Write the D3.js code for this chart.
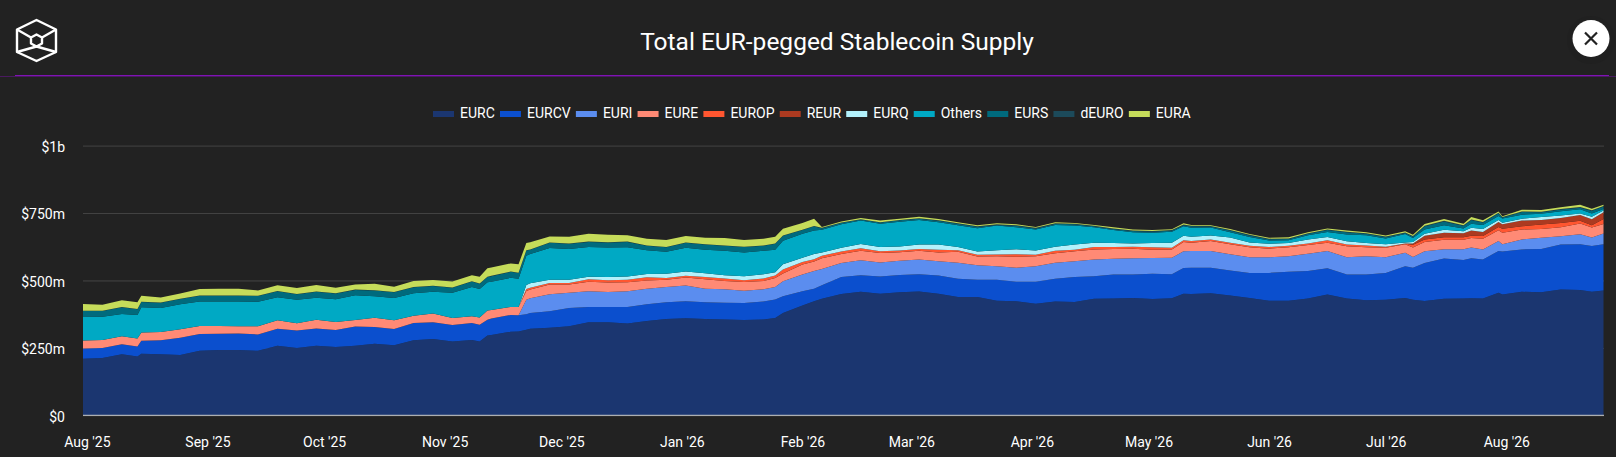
<!DOCTYPE html>
<html>

<head>
  <meta charset="utf-8">
  <title>Total EUR-pegged Stablecoin Supply</title>
  <style>
    html, body { margin: 0; padding: 0; background: #222222; overflow: hidden; }
    svg { display: block; font-family: Roboto, sans-serif; }
    .tick text { fill: #fff; font-size: 14px; font-family: Roboto, sans-serif; }
  </style>
</head>

<body>
  <svg></svg>
  <script src="https://d3js.org/d3.v7.min.js"></script>
  <script>
    const width = 1616;
    const height = 457;

    const dates = [
      "2025-07-31","2025-08-05","2025-08-10","2025-08-14","2025-08-15","2025-08-20","2025-08-25","2025-08-30","2025-09-04","2025-09-09",
      "2025-09-14","2025-09-19","2025-09-24","2025-09-29","2025-10-04","2025-10-09","2025-10-14","2025-10-19","2025-10-24","2025-10-29",
      "2025-11-03","2025-11-08","2025-11-10","2025-11-12","2025-11-13","2025-11-18","2025-11-20","2025-11-22","2025-11-23","2025-11-28",
      "2025-12-03","2025-12-08","2025-12-13","2025-12-18","2025-12-23","2025-12-28","2026-01-02","2026-01-07","2026-01-12","2026-01-17",
      "2026-01-22","2026-01-25","2026-01-27","2026-02-01","2026-02-04","2026-02-06","2026-02-11","2026-02-16","2026-02-21","2026-02-26",
      "2026-03-03","2026-03-08","2026-03-13","2026-03-18","2026-03-23","2026-03-28","2026-04-02","2026-04-07","2026-04-12","2026-04-17",
      "2026-04-22","2026-04-27","2026-05-02","2026-05-07","2026-05-10","2026-05-12","2026-05-17","2026-05-22","2026-05-27","2026-06-01",
      "2026-06-06","2026-06-11","2026-06-16","2026-06-21","2026-06-26","2026-07-01","2026-07-06","2026-07-08","2026-07-11","2026-07-16",
      "2026-07-21","2026-07-23","2026-07-26","2026-07-30","2026-07-31","2026-08-05","2026-08-10","2026-08-15","2026-08-20","2026-08-23","2026-08-26"
    ];

    // values in $m
    const EURC = [
      210,212,226,218,228,226,224,239,242,242,
      239,258,250,258,253,258,265,260,278,283,
      274,279,274,296,298,310,311,317,321,325,
      330,345,345,340,350,357,360,357,355,353,
      355,361,379,407,423,432,450,458,451,456,
      459,451,439,439,425,423,414,422,420,432,
      433,435,431,434,451,450,453,444,435,425,
      425,433,448,433,427,428,435,428,424,432,
      433,434,433,454,448,458,456,466,465,458,463
    ];
    const EURCV = [
      38,38,37,37,48,52,64,62,60,61,
      61,63,64,64,63,71,62,60,64,62,
      61,63,62,58,61,62,60,58,58,61,
      68,57,57,62,62,62,63,62,62,63,
      67,68,62,53,46,50,63,61,64,64,
      64,67,67,64,78,72,81,84,93,84,
      89,87,94,89,95,97,94,93,93,103,
      107,102,97,89,95,100,118,119,141,149,
      143,148,145,155,159,157,161,167,169,170,171
    ];
    const EURI = [
      0,0,0,0,0,0,0,0,0,0,
      0,0,0,0,0,0,0,0,0,0,
      0,0,0,0,0,0,0,53,55,63,
      56,58,55,58,57,57,58,50,50,46,
      45,47,56,62,66,60,52,56,52,53,
      55,53,60,53,50,52,58,60,58,62,
      58,60,58,61,62,62,62,60,58,58,
      58,64,64,64,68,58,50,40,43,35,
      40,40,37,37,27,37,41,31,37,31,40
    ];
    const EURE = [
      29,29,30,30,31,31,31,30,29,27,
      30,31,27,32,30,24,35,32,27,32,
      26,25,27,35,31,30,31,33,32,36,
      31,35,35,33,31,27,30,35,31,32,
      31,33,29,37,35,40,33,35,35,32,
      32,33,40,33,37,41,37,35,37,37,
      37,36,31,31,35,31,37,37,37,32,
      33,32,31,41,33,35,31,35,35,35,
      35,35,40,40,43,37,33,33,40,37,35
    ];
    const EUROP = [
      0,0,0,0,0,0,0,0,0,0,
      0,0,0,0,0,0,0,0,0,0,
      0,0,0,0,0,0,0,7,7,6,
      6,9,9,10,12,6,6,9,9,7,
      9,9,15,9,9,10,9,9,6,6,
      7,10,6,6,6,9,5,9,6,9,
      7,7,9,6,6,6,6,6,6,6,
      6,6,9,6,7,4,2,10,9,9,
      9,9,10,12,15,12,16,16,10,9,19
    ];
    const REUR = [
      0,0,0,0,0,0,0,0,0,0,
      0,0,0,0,0,0,0,0,0,0,
      0,0,0,0,0,0,0,0,0,0,
      0,0,0,0,0,0,0,0,0,0,
      0,0,0,0,0,0,0,0,0,0,
      0,0,0,0,0,0,0,0,0,0,
      0,0,0,0,0,0,0,0,0,0,
      0,0,0,0,0,0,1,5,14,17,
      15,19,15,19,16,21,17,19,22,22,25
    ];
    const EURQ = [
      0,0,0,0,0,0,0,0,0,0,
      0,0,0,0,0,0,0,0,0,0,
      0,0,0,0,0,0,0,15,17,12,
      12,10,12,12,12,16,16,14,12,15,
      16,12,19,16,19,12,14,16,16,15,
      16,19,12,12,16,19,16,15,19,16,
      15,12,16,19,17,16,15,19,12,12,
      10,15,12,12,9,9,4,6,7,11,
      7,10,11,7,6,7,11,9,5,9,6
    ];
    const Others = [
      89,86,83,87,94,89,93,91,91,92,
      91,86,87,82,84,92,79,83,84,81,
      93,109,105,104,105,108,104,109,108,117,
      114,110,109,108,88,81,88,87,91,88,
      87,84,87,89,87,84,87,87,86,92,
      91,83,81,87,92,81,78,81,71,57,
      48,42,38,41,35,33,29,20,20,12,
      10,16,19,25,29,22,31,14,16,17,
      11,15,15,15,16,15,12,16,16,12,6
    ];
    const EURS = [
      21,22,25,21,19,19,19,21,21,21,
      21,22,21,22,22,20,22,21,22,21,
      19,20,20,20,21,22,22,19,16,20,
      19,19,19,20,17,17,19,19,19,20,
      19,22,19,14,16,6,6,4,5,5,
      5,5,5,5,2,6,4,4,4,4,
      4,4,4,4,4,6,4,6,6,5,
      5,5,7,9,5,5,4,6,12,14,
      10,14,9,10,3,10,6,6,6,10,9
    ];
    const dEURO = [
      1,1,1,1,1,1,1,1,1,1,
      1,1,1,1,1,1,1,1,1,1,
      1,1,1,1,1,1,1,1,1,1,
      1,1,1,1,1,1,1,1,1,1,
      1,1,1,1,1,1,1,1,1,1,
      2,2,2,2,2,2,2,2,2,2,
      2,2,2,2,2,2,2,2,2,2,
      2,2,2,2,2,2,2,2,2,2,
      2,2,2,2,2,2,2,2,2,2,2
    ];
    const EURA = [
      25,22,25,25,22,19,20,24,25,25,
      20,21,22,24,20,19,24,20,22,22,
      22,22,25,31,31,30,31,27,27,22,
      25,29,27,24,25,26,24,24,27,25,
      25,25,25,25,27,3,4,5,6,5,
      5,5,4,4,4,3,3,4,3,3,
      4,4,4,3,5,3,3,4,3,3,
      4,4,4,4,4,4,4,4,6,7,
      5,9,6,5,3,6,6,6,9,6,5
    ];

    const names = ["EURC", "EURCV", "EURI", "EURE", "EUROP", "REUR", "EURQ", "Others", "EURS", "dEURO", "EURA"];
    const colors = ["#1b3670", "#0b4fce", "#5b8def", "#ff8a75", "#ff5630", "#ac3a20", "#b3f1fb", "#00a9c4", "#006a7d", "#1c4a5a", "#c6dc5a"];
    const seriesValues = [EURC, EURCV, EURI, EURE, EUROP, REUR, EURQ, Others, EURS, dEURO, EURA];
    const yTicks = [0, 250, 500, 750, 1000];
    const yLabels = ["$0", "$250m", "$500m", "$750m", "$1b"];

    const parseDate = d3.utcParse("%Y-%m-%d");
    const rows = dates.map((d, i) => {
      const row = { date: parseDate(d) };
      names.forEach((n, j) => { row[n] = seriesValues[j][i]; });
      return row;
    });

    const x = d3.scaleUtc(d3.extent(rows, d => d.date), [83, 1603.5]);
    const y = d3.scaleLinear([0, 1000], [415.3, 145.6]);

    const layers = d3.stack().keys(names)(rows);
    const area = d3.area()
      .x(d => x(d.data.date))
      .y0(d => y(d[0]))
      .y1(d => y(d[1]));

    const svg = d3.select("svg")
      .attr("width", width)
      .attr("height", height)
      .attr("viewBox", [0, 0, width, height]);

    // header
    svg.append("text")
      .attr("x", 837)
      .attr("y", 50)
      .attr("text-anchor", "middle")
      .attr("fill", "#fff")
      .attr("font-size", 24.5)
      .text("Total EUR-pegged Stablecoin Supply");

    svg.append("line").attr("x1", 0).attr("x2", width).attr("y1", 76.5).attr("y2", 76.5)
      .attr("stroke", "#4a1a60");
    svg.append("line").attr("x1", 15).attr("x2", 1609).attr("y1", 75.5).attr("y2", 75.5)
      .attr("stroke", "#8013b5").attr("stroke-width", 1.2);

    const logo = svg.append("g")
      .attr("fill", "none")
      .attr("stroke", "#fff")
      .attr("stroke-width", 2.4)
      .attr("stroke-linejoin", "round");
    logo.append("path").attr("d", "M36.5 20 L56 29.5 L56 52 L36.5 61 L17 52 L17 29.5 Z");
    logo.append("path").attr("d", "M36.5 34.5 L42 37.5 L42 43.5 L36.5 46.5 L31 43.5 L31 37.5 Z");
    logo.append("path").attr("d", "M17 29.5 L31 37.5 M56 29.5 L42 37.5 M17 52 L36.5 46.5 L56 52");

    const close = svg.append("g");
    close.append("circle").attr("cx", 1591).attr("cy", 40).attr("r", 24).attr("fill", "#202020");
    close.append("circle").attr("cx", 1591).attr("cy", 38.5).attr("r", 18.5).attr("fill", "#fff");
    close.append("path").attr("d", "M1585 32.5 L1597 44.5 M1597 32.5 L1585 44.5")
      .attr("stroke", "#222").attr("stroke-width", 2.2).attr("fill", "none");

    // legend, laid out from the measured text widths
    const legend = svg.append("g");
    let lx = 433;
    names.forEach((n, i) => {
      legend.append("rect")
        .attr("x", lx).attr("y", 111).attr("width", 21).attr("height", 6)
        .attr("fill", colors[i]);
      const t = legend.append("text")
        .attr("x", lx + 27).attr("y", 118)
        .attr("fill", "#fff")
        .attr("font-size", 14)
        .text(n);
      lx += 27 + t.node().getComputedTextLength() + 5.2;
    });

    // grid and axes
    const yAxis = d3.axisLeft(y)
      .tickValues(yTicks)
      .tickFormat((d, i) => yLabels[i])
      .tickSize(-(1604 - 83))
      .tickPadding(18);
    const yG = svg.append("g")
      .attr("transform", "translate(83,0)")
      .call(yAxis);
    yG.select(".domain").remove();
    yG.selectAll(".tick line").attr("stroke", "#444").attr("stroke-width", 1);
    yG.selectAll(".tick text").attr("dy", "0.42em");

    svg.append("g")
      .selectAll("path")
      .data(layers)
      .join("path")
      .attr("fill", (d, i) => colors[i])
      .attr("d", area);

    svg.append("line")
      .attr("x1", 83).attr("x2", 1604)
      .attr("y1", y(0)).attr("y2", y(0))
      .attr("stroke", "#ccc");

    const xAxis = d3.axisBottom(x)
      .ticks(d3.utcMonth.every(1))
      .tickFormat(d3.utcFormat("%b '%y"))
      .tickSize(0)
      .tickPadding(22);
    const xG = svg.append("g")
      .attr("transform", `translate(0,${y(0)})`)
      .call(xAxis);
    xG.select(".domain").remove();
  </script>
</body>

</html>
